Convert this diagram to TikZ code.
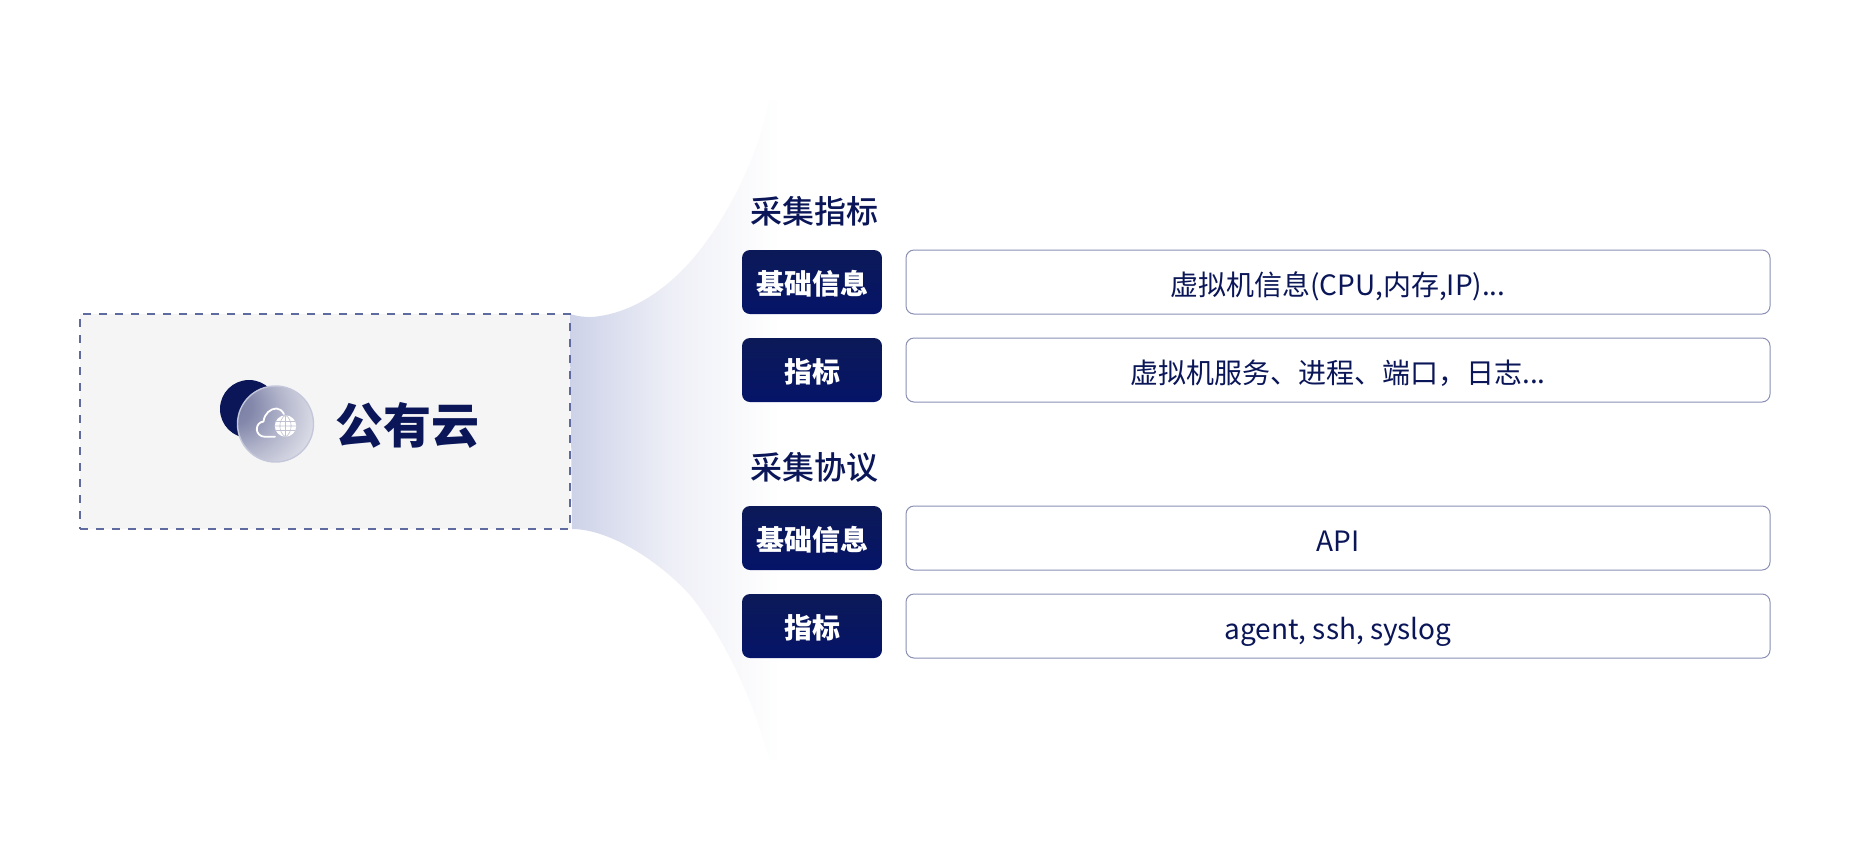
\documentclass[tikz,border=0pt]{standalone}
\usepackage{fontspec}
\setmainfont{Noto Sans CJK SC}
\newfontfamily\medfont{Noto Sans CJK SC Medium}
\usetikzlibrary{calc}
\definecolor{navy}{HTML}{0A1658}
\definecolor{navytop}{HTML}{0C1958}
\definecolor{navybot}{HTML}{051468}
\definecolor{edgeblue}{HTML}{8A90B4}
\definecolor{ringblue}{HTML}{C4C7DA}
\definecolor{dashblue}{HTML}{5F6A9F}
\definecolor{panelgrey}{HTML}{F5F5F5}
\definecolor{fadeblue}{HTML}{CDD2E8}
\definecolor{fademid}{HTML}{EFF0F7}
\definecolor{gridgrey}{HTML}{BFC1D2}
\definecolor{glassa}{HTML}{757AA2}
\definecolor{glassb}{HTML}{8488AB}
\definecolor{glassc}{HTML}{B4B7CC}
\definecolor{glassd}{HTML}{DEDFE9}
\definecolor{glasse}{HTML}{F2F2F6}
\pgfdeclareradialshading{glassball}{\pgfpoint{-31bp}{13bp}}{%
  color(0bp)=(glassa);
  color(12bp)=(glassb);
  color(28bp)=(glassc);
  color(45bp)=(glassd);
  color(62bp)=(glasse);
  color(100bp)=(glasse)}
\tikzset{
  x=1pt,y=-1pt,
  tagbox/.style={draw=none,rounded corners=8pt,top color=navytop,bottom color=navybot,
    minimum width=140pt,minimum height=64pt,inner sep=0pt,text=white,
    text height=28pt,text depth=4pt,
    font=\fontsize{28}{28}\selectfont\bfseries,anchor=center},
  valbox/.style={draw=edgeblue,line width=1pt,rounded corners=8pt,fill=white,
    minimum width=864pt,minimum height=64pt,inner sep=0pt,text=navy,
    text height=30pt,text depth=4pt,
    font=\fontsize{28}{28}\selectfont,anchor=center},
  headtext/.style={text=navy,inner sep=0pt,font=\medfont\fontsize{32}{32}\selectfont,anchor=center},
  iconline/.style={draw=white,line width=1.8pt,line cap=round,line join=round},
  gridline/.style={draw=gridgrey,line width=.6pt},
}
\begin{document}
\begin{tikzpicture}
\useasboundingbox (0,0) rectangle (1850,844);
\fill[white] (0,0) rectangle (1850,844);
% fan
\shade[left color=fadeblue,right color=white,middle color=fademid]
  (570,314) .. controls (580,317) and (590,318) .. (600,316)
  .. controls (640,310) and (675,282) .. (700,250)
  .. controls (725,218) and (748,175) .. (762,130)
  -- (770,100) -- (780,100) -- (780,760) -- (770,760) -- (762,735)
  .. controls (748,690) and (722,635) .. (690,595)
  .. controls (660,562) and (610,529) .. (572,529)
  -- cycle;
% panel
\node[draw=dashblue,dash pattern=on 8pt off 8pt,line width=1.1pt,fill=panelgrey,
  minimum width=490pt,minimum height=215pt,inner sep=0pt] (panel) at (325,421.5) {};
% icon
\fill[navy] (249,409) circle (29);
\shade[shading=glassball] (275.5,424) circle (38);
\draw[ringblue,line width=1.4pt] (275.5,424) circle (38);
% cloud
\draw[iconline]
  (275,436.8) -- (265,436.8)
  .. controls (260,436.8) and (256.8,433) .. (256.8,429.3)
  .. controls (256.8,425) and (259.5,422) .. (263.5,421.5)
  .. controls (264.5,413.5) and (270.5,408.5) .. (276.5,408.5)
  .. controls (279.5,408.5) and (282,410.5) .. (284,414);
% globe
\fill[white] (285.5,426) circle (10.7);
\begin{scope}
\clip (285.5,426) circle (10.7);
\draw[gridline]
  (274,421.5) -- (297,421.5) (274,426) -- (297,426) (274,430.5) -- (297,430.5)
  (285.5,415) -- (285.5,437)
  (285.5,415) .. controls (278,420) and (278,432) .. (285.5,437)
  (285.5,415) .. controls (293,420) and (293,432) .. (285.5,437);
\end{scope}
% title
\node[text=navy,inner sep=0pt,font=\fontsize{48}{48}\selectfont\bfseries] (cloudname) at (407,425) {公有云};
% section 1
\node[headtext] (h1) at (814,211) {采集指标};
\node[tagbox] (t1) at (812,282) {基础信息};
\node[valbox] (v1) at (1338,282) {虚拟机信息(CPU,内存,IP)...};
\node[tagbox] (t2) at (812,370) {指标};
\node[valbox] (v2) at (1338,370) {虚拟机服务、进程、端口，日志...};
% section 2
\node[headtext] (h2) at (814,467) {采集协议};
\node[tagbox] (t3) at (812,538) {基础信息};
\node[valbox] (v3) at (1338,538) {API};
\node[tagbox] (t4) at (812,626) {指标};
\node[valbox] (v4) at (1338,626) {agent, ssh, syslog};
\end{tikzpicture}
\end{document}
